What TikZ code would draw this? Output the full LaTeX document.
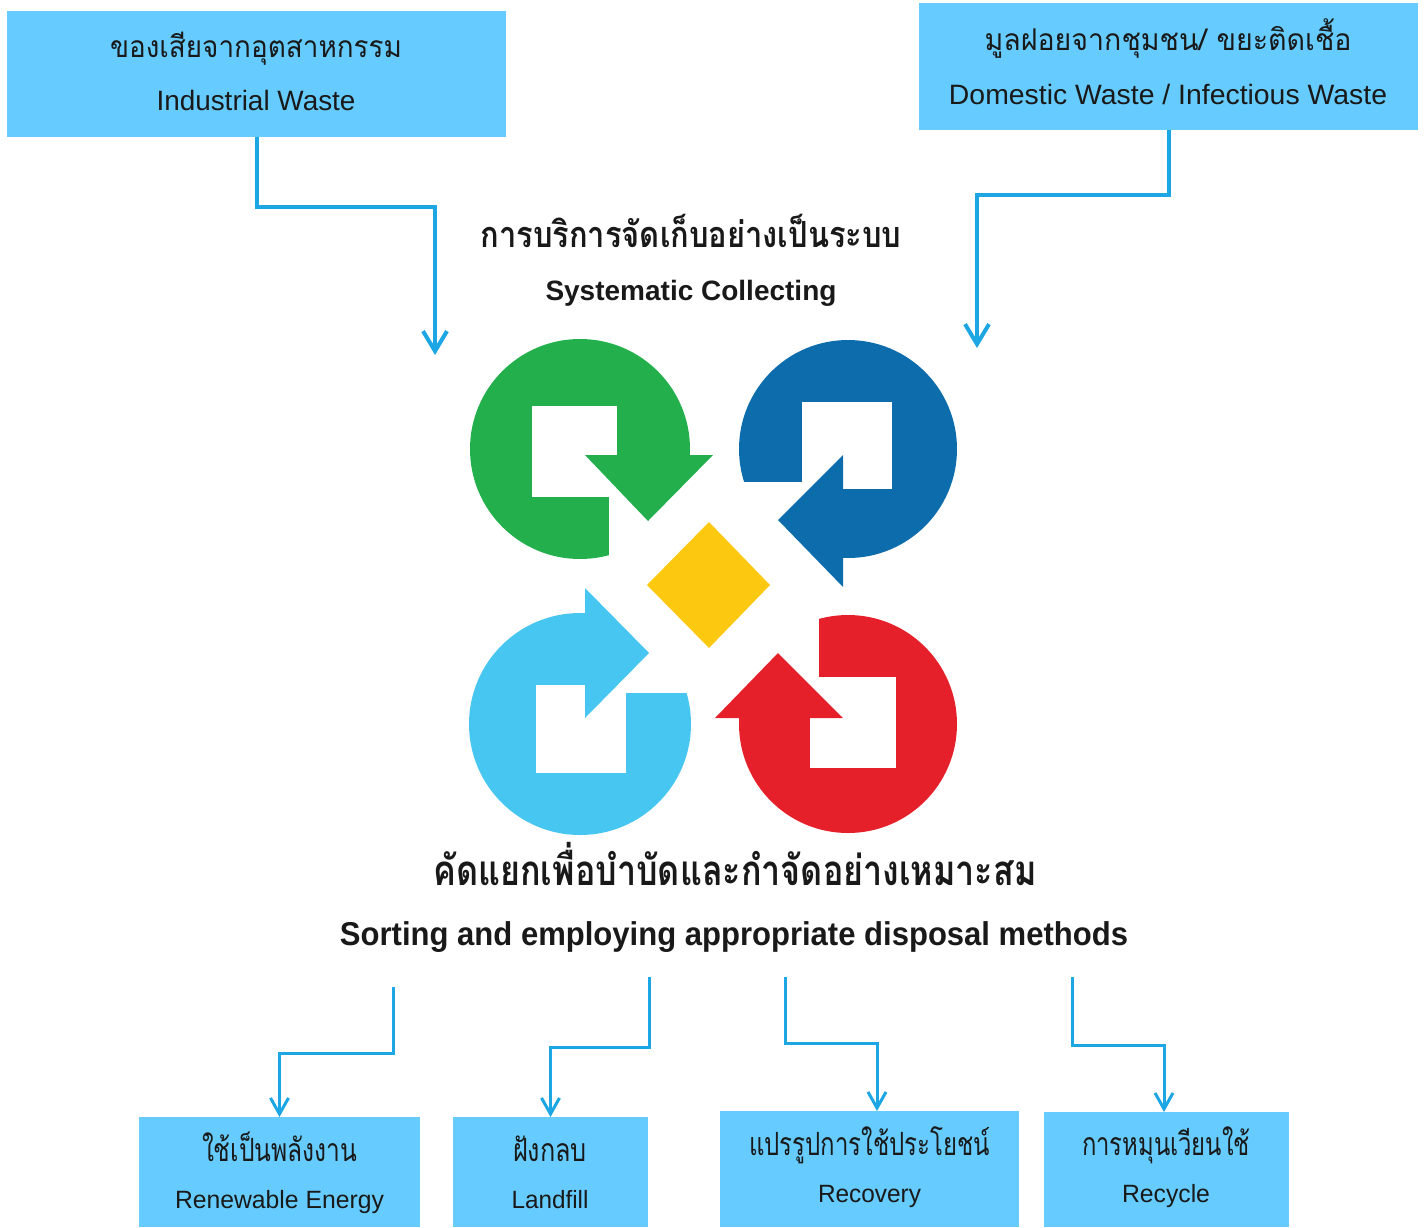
\documentclass[tikz,border=0pt]{standalone}
\usepackage{fontspec}
\usepackage{graphicx}
\setmainfont{Liberation Sans}
\newfontfamily\thaifont[Script=Thai]{Loma}
\usetikzlibrary{arrows.meta}
\definecolor{boxblue}{RGB}{102,204,255}
\definecolor{linkblue}{RGB}{28,166,227}
\definecolor{lgreen}{RGB}{35,176,76}
\definecolor{lblue}{RGB}{12,108,172}
\definecolor{lcyan}{RGB}{72,198,242}
\definecolor{lred}{RGB}{230,32,42}
\definecolor{lyellow}{RGB}{252,201,16}
\newcommand\fitw[2]{\resizebox{#1}{\height}{#2}}
\newcommand\thtxt[3]{{\fontsize{#1}{#1}\thaifont\fitw{#2}{#3}}}
\newcommand\thbold[3]{{\fontsize{#1}{#1}\thaifont\bfseries\fitw{#2}{#3}}}
\newcommand\entxt[3]{{\fontsize{#1}{#1}\selectfont\fitw{#2}{#3}}}
\newcommand\enbold[3]{{\fontsize{#1}{#1}\bfseries\fitw{#2}{#3}}}
\begin{document}
\begin{tikzpicture}[x=0.5pt,y=-0.5pt,
  wbox/.style={fill=boxblue, draw=none, inner sep=0pt, outer sep=0pt},
  lbl/.style={anchor=base, inner sep=0pt, text=black!90},
  link/.style={draw=linkblue, line width=2pt, -{Straight Barb[length=10pt,width=12pt,line width=2pt]}},
  linksm/.style={draw=linkblue, line width=1.5pt, -{Straight Barb[length=8pt,width=9pt,line width=1.5pt]}}]
\useasboundingbox (0,0) rectangle (1424,1227);

% ---- source boxes
\node[wbox, minimum width=249.5pt, minimum height=63pt] (ind) at (256.5,74) {};
\node[wbox, minimum width=249.5pt, minimum height=63.5pt] (dom) at (1168.5,66.5) {};
\node[lbl] (indth) at (256,57) {\thtxt{15pt}{146pt}{ของเสียจากอุตสาหกรรม}};
\node[lbl] (inden) at (256,110) {\entxt{14pt}{99.5pt}{Industrial Waste}};
\node[lbl] (domth) at (1168,50) {\thtxt{15pt}{183.5pt}{มูลฝอยจากชุมชน/ ขยะติดเชื้อ}};
\node[lbl] (domen) at (1168,104) {\entxt{14pt}{219pt}{Domestic Waste / Infectious Waste}};

% ---- titles
\node[lbl] (colth) at (691,247) {\thbold{18pt}{210.5pt}{การบริการจัดเก็บอย่างเป็นระบบ}};
\node[lbl] (colen) at (691,300) {\enbold{14pt}{145.5pt}{Systematic Collecting}};
\node[lbl] (sortth) at (735,885) {\thbold{21pt}{301.5pt}{คัดแยกเพื่อบำบัดและกำจัดอย่างเหมาะสม}};
\node[lbl] (sorten) at (734,945) {\enbold{16.5pt}{394pt}{Sorting and employing appropriate disposal methods}};

% ---- logo
\fill[lgreen] (580,449) circle[radius=110];
\begin{scope}
  \clip (580,449) circle[radius=112];
  \fill[white] (532,406) rectangle (617,497);
  \fill[white] (609,455) rectangle (700,570);
\end{scope}
\fill[lgreen] (585,455) -- (713,455) -- (648,521) -- cycle;

\fill[lblue] (848,449) circle[radius=109];
\begin{scope}
  \clip (848,449) circle[radius=111];
  \fill[white] (802,402) rectangle (892,489);
  \fill[white] (720,482) rectangle (843,570);
\end{scope}
\fill[lblue] (843,455) -- (778,520) -- (843,587) -- cycle;

\fill[lcyan] (580,724) circle[radius=111];
\begin{scope}
  \clip (580,724) circle[radius=113];
  \fill[white] (536,685) rectangle (626,773);
  \fill[white] (585,600) rectangle (700,693);
\end{scope}
\fill[lcyan] (585,588) -- (649,653) -- (585,718) -- cycle;

\fill[lred] (848,724) circle[radius=109];
\begin{scope}
  \clip (848,724) circle[radius=111];
  \fill[white] (810,677) rectangle (896,768);
  \fill[white] (720,600) rectangle (819,718);
\end{scope}
\fill[lred] (715,718) -- (778,653) -- (843,718) -- cycle;

\fill[lyellow] (709,522) -- (770,585) -- (709,648) -- (647,585) -- cycle;

% ---- top connectors
\coordinate (indEnd) at (435,355);
\coordinate (domEnd) at (977,348);
\draw[link] (ind.south) -- ++(0,70) -| (indEnd);
\draw[link] (dom.south) -- ++(0,65) -| (domEnd);

% ---- result boxes
\node[wbox, minimum width=140.5pt, minimum height=55pt] (ren) at (279.5,1172) {};
\node[wbox, minimum width=97.5pt, minimum height=55pt] (land) at (550.5,1172) {};
\node[wbox, minimum width=149.5pt, minimum height=58pt] (recov) at (869.5,1169) {};
\node[wbox, minimum width=122.5pt, minimum height=57.5pt] (recyc) at (1166.5,1169.5) {};

\node[lbl] (renth) at (279.5,1161) {\thtxt{16pt}{77.5pt}{ใช้เป็นพลังงาน}};
\node[lbl] (renen) at (279.5,1208) {\entxt{12.5pt}{104.5pt}{Renewable Energy}};
\node[lbl] (landth) at (550,1161) {\thtxt{16pt}{37pt}{ฝังกลบ}};
\node[lbl] (landen) at (550,1208) {\entxt{12.5pt}{38.5pt}{Landfill}};
\node[lbl] (recovth) at (869.5,1155) {\thtxt{16pt}{120.5pt}{แปรรูปการใช้ประโยชน์}};
\node[lbl] (recoven) at (869.5,1202) {\entxt{12.5pt}{51.5pt}{Recovery}};
\node[lbl] (recycth) at (1166,1155) {\thtxt{16pt}{84pt}{การหมุนเวียนใช้}};
\node[lbl] (recycen) at (1166,1202) {\entxt{12.5pt}{44pt}{Recycle}};

% ---- bottom connectors
\coordinate (s1) at (393,987);
\coordinate (s2) at (649,977);
\coordinate (s3) at (785,977);
\coordinate (s4) at (1072,977);
\coordinate (recovIn) at (877,1111);
\coordinate (recycIn) at (1164,1112);
\draw[linksm] (s1) -- ++(0,66) -| (ren.north);
\draw[linksm] (s2) -- ++(0,70) -| (land.north);
\draw[linksm] (s3) -- ++(0,66) -| (recovIn);
\draw[linksm] (s4) -- ++(0,68) -| (recycIn);
\end{tikzpicture}
\end{document}
